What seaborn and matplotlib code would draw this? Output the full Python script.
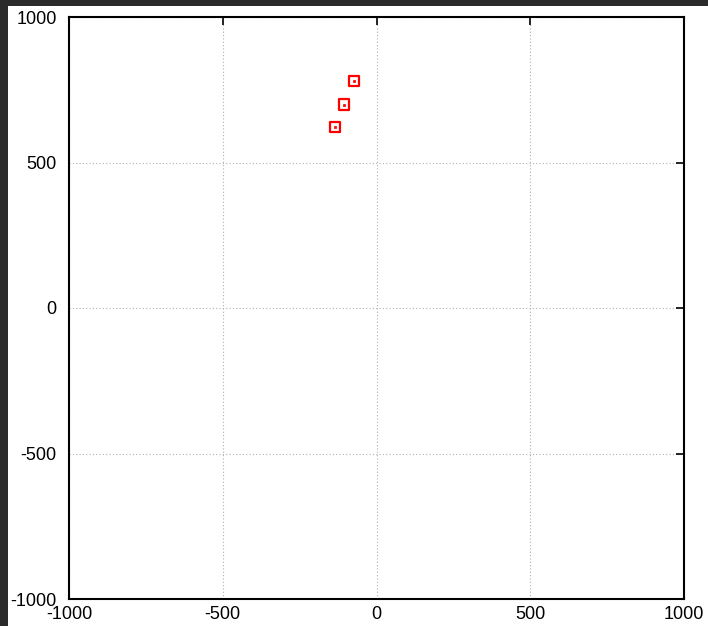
import matplotlib
matplotlib.use("Agg")
import matplotlib.pyplot as plt
import seaborn as sns
import pandas as pd
from matplotlib.patches import Rectangle

x_vals = [-73, -105, -135]
y_vals = [780, 699, 623]
ticks = [-1000, -500, 0, 500, 1000]

df = pd.DataFrame({"x": x_vals, "y": y_vals})

sns.set_style("white")
plt.rcParams['font.family'] = ['Liberation Sans', 'DejaVu Sans']

fig = plt.figure(figsize=(7.08, 6.26), dpi=100, facecolor='#2b2b2b')
bg = Rectangle((8/708, 0), 1, (626-6)/626, transform=fig.transFigure,
               facecolor='white', edgecolor='none', zorder=-10)
fig.add_artist(bg)
ax = fig.add_axes([69/708, (626-599)/626, (684-69)/708, (599-17)/626])
ax.set_zorder(1)

sns.scatterplot(data=df, x="x", y="y", ax=ax, marker='s', s=55,
                facecolor='none', edgecolor='red', linewidth=1.6, zorder=5)
sns.scatterplot(data=df, x="x", y="y", ax=ax, marker='s', s=3,
                color='red', edgecolor='red', linewidth=0.5, zorder=6)

ax.set_xlim(-1000, 1000)
ax.set_ylim(-1000, 1000)
ax.set_xticks(ticks)
ax.set_yticks(ticks)
ax.set_xticklabels([str(t) for t in ticks])
ax.set_yticklabels([str(t) for t in ticks])
ax.set_xlabel("")
ax.set_ylabel("")
ax.grid(True, color='#b0b0b0', linestyle=(0, (1, 2)), linewidth=0.8)
ax.tick_params(direction='in', length=6, width=1.2, top=True, right=True,
               labelsize=13, colors='black')
ax.tick_params(axis='y', pad=9)
ax.tick_params(axis='x', pad=5)
for s in ax.spines.values():
    s.set_color('black')
    s.set_linewidth(1.5)
    s.set_visible(True)

fig.savefig("out.png", dpi=100, facecolor=fig.get_facecolor())
